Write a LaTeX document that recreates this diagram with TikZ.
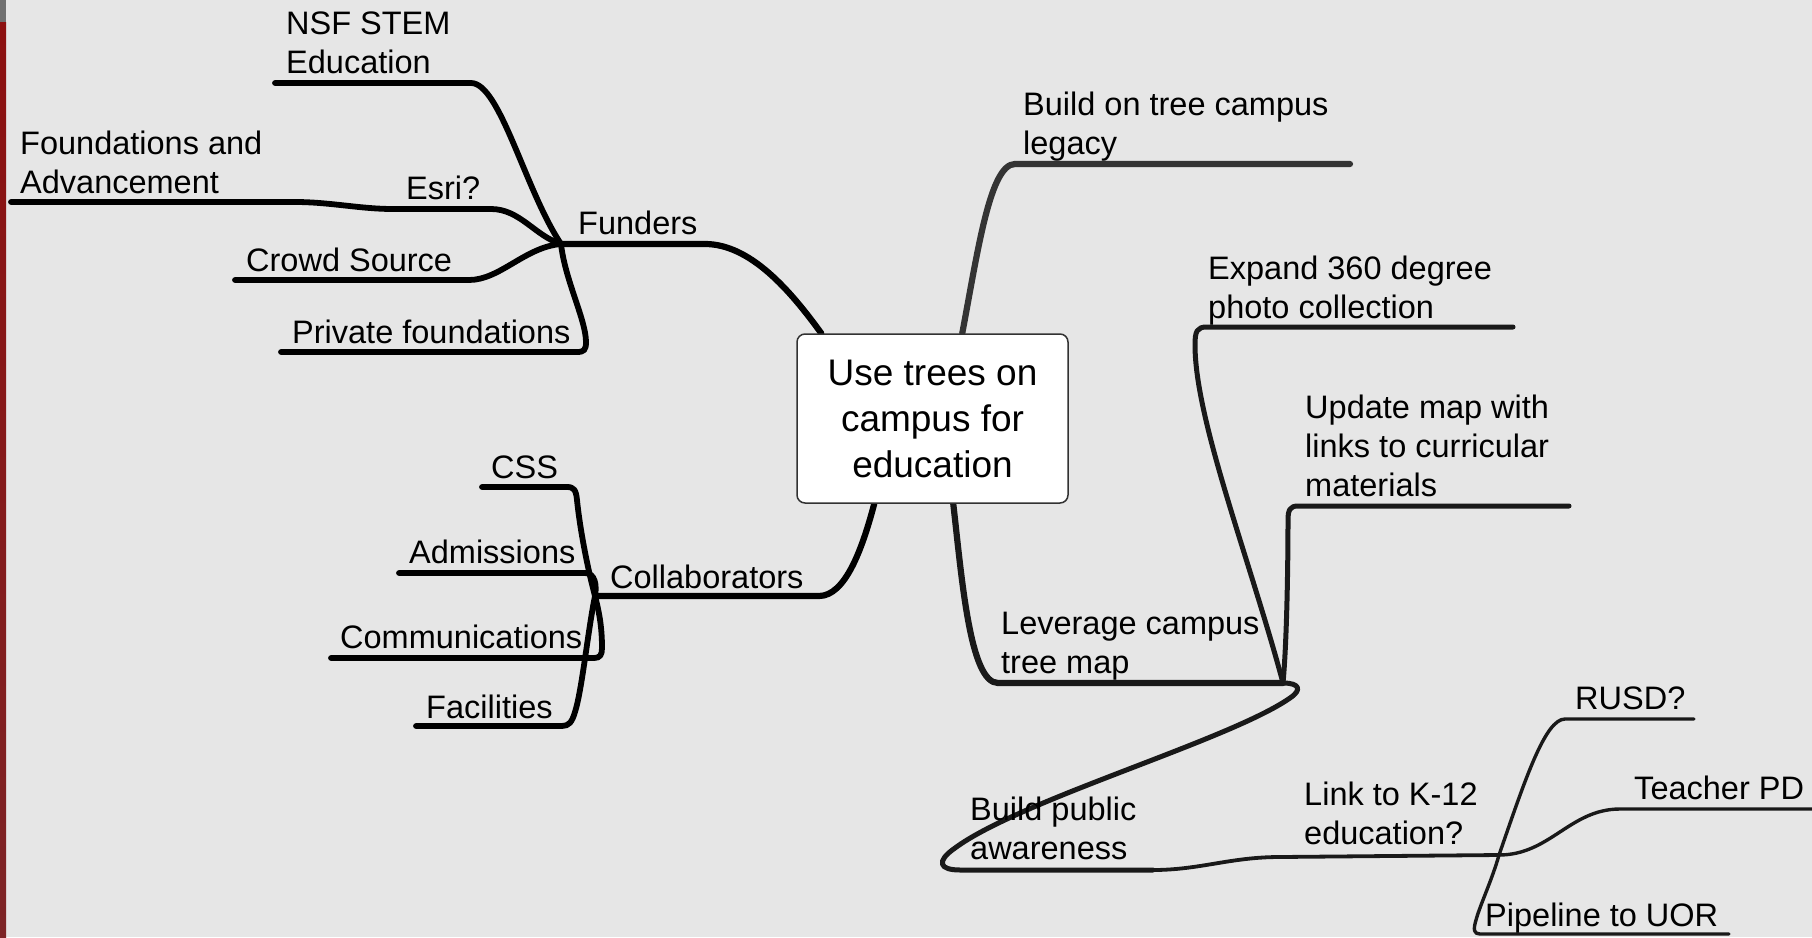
\documentclass[tikz,border=0pt]{standalone}
\usepackage{fontspec}
\setmainfont{Liberation Sans}
\usetikzlibrary{backgrounds}
\definecolor{bg}{RGB}{230,230,230}
\definecolor{legacyc}{RGB}{52,52,52}
\definecolor{boxline}{RGB}{50,50,50}
\definecolor{stripgrey}{RGB}{112,112,112}
\definecolor{stripred}{RGB}{140,16,16}
\definecolor{stripred2}{RGB}{125,36,38}
\tikzset{
  lbl/.style={anchor=base west, inner sep=0pt, yshift=-1.5pt, font=\fontsize{32.5}{39}\selectfont, align=left},
  rootbox/.style={draw=boxline, fill=white, rounded corners=8pt, line width=1.5pt,
    minimum width=271pt, minimum height=169pt, align=center, inner sep=0pt,
    font=\fontsize{37}{46}\selectfont},
  brmain/.style={line width=6.2pt, line cap=round, line join=round},
  br/.style={line width=5.8pt, line cap=round, line join=round},
  brm/.style={line width=5pt, line cap=round, line join=round},
  brt/.style={line width=3.4pt, line cap=round, line join=round},
}
\begin{document}
\begin{tikzpicture}[x=1pt,y=-1pt]
\useasboundingbox (0,0) rectangle (1812,937);
\begin{scope}[on background layer]
\fill[bg] (0,0) rectangle (1812,937);
\shade[top color=stripred, bottom color=stripred2] (0,22) rectangle (6,937);
\fill[stripgrey] (0,0) rectangle (6,22);
\end{scope}

% root
\node[rootbox] (root) at (932.5,418.5) {Use trees on\\campus for\\education};

% labels (anchor at the baseline of the last line)
\node[lbl] (nsf) at (286,72) {NSF STEM\\Education};
\node[lbl] (fa) at (20,192) {Foundations and\\Advancement};
\node[lbl] (esri) at (406,198) {Esri?};
\node[lbl] (funders) at (578,233) {Funders};
\node[lbl] (crowd) at (246,270) {Crowd Source};
\node[lbl] (priv) at (292,342) {Private foundations};
\node[lbl] (css) at (491,477) {CSS};
\node[lbl] (adm) at (409,562) {Admissions};
\node[lbl] (comm) at (340,647) {Communications};
\node[lbl] (fac) at (426,717) {Facilities};
\node[lbl] (collab) at (610,587) {Collaborators};
\node[lbl] (legacy) at (1023,153) {Build on tree campus\\legacy};
\node[lbl] (expand) at (1208,317) {Expand 360 degree\\photo collection};
\node[lbl] (update) at (1305,495) {Update map with\\links to curricular\\materials};
\node[lbl] (leverage) at (1001,672) {Leverage campus\\tree map};
\node[lbl] (public) at (970,858) {Build public\\awareness};
\node[lbl] (k12) at (1304,843) {Link to K-12\\education?};
\node[lbl] (rusd) at (1575,708) {RUSD?};
\node[lbl] (teacher) at (1634,798) {Teacher PD};
\node[lbl] (pipe) at (1485,925) {Pipeline to UOR};

% junctions and free ends
\coordinate (J1) at (561,244);
\coordinate (J2) at (595,596);
\coordinate (J3) at (1283,683);
\coordinate (J4) at (1499,855);
\coordinate (nsfE) at (275,83);
\coordinate (faE) at (11,202);
\coordinate (crowdE) at (235,280);
\coordinate (privE) at (281,352);
\coordinate (cssE) at (482,487);
\coordinate (admE) at (399,573);
\coordinate (commE) at (331,658);
\coordinate (facE) at (416,726);
\coordinate (legE) at (1350,164);
\coordinate (expE) at (1513,327);
\coordinate (updE) at (1569,506);
\coordinate (pubE) at (1153,870);
\coordinate (rusdE) at (1694,719);
\coordinate (teachE) at (1812,809);
\coordinate (pipeE) at (1729,934);

\begin{scope}[on background layer]
% Funders subtree
\draw[brmain] (J1) -- (705,244) .. controls (750,244) and (790,290) .. ([xshift=25pt]root.north west);
\draw[br] (J1) .. controls (525,190) and (500,83) .. (471,83) -- (nsfE);
\draw[br] (J1) .. controls (535,236) and (520,209) .. (491,209) -- (393,209) .. controls (360,209) and (330,202) .. (295,202) -- (faE);
\draw[br] (J1) .. controls (525,247) and (500,280) .. (469,280) -- (crowdE);
\draw[br] (J1) .. controls (565,280) and (586,320) .. (586,342) .. controls (586,350) and (584,352) .. (577,352) -- (privE);
% Collaborators subtree
\draw[brmain] (J2) -- (819,596) .. controls (845,596) and (862,550) .. ([xshift=78pt]root.south west);
\draw[br] (J2) .. controls (588,570) and (580,530) .. (577,500) .. controls (576,490) and (574,487) .. (567,487) -- (cssE);
\draw[br] (J2) .. controls (597,585) and (595,573) .. (585,573) -- (admE);
\draw[br] (J2) .. controls (600,615) and (602,630) .. (602,648) .. controls (602,655) and (600,658) .. (594,658) -- (commE);
\draw[br] (J2) .. controls (588,630) and (582,690) .. (575,712) .. controls (572,722) and (569,726) .. (562,726) -- (facE);
% Right side
\draw[brmain, draw=legacyc] ([xshift=166pt]root.north west) .. controls (978,250) and (990,164) .. (1015,164) -- (legE);
\draw[brmain, draw=black!90] ([xshift=157pt]root.south west) .. controls (962,580) and (970,683) .. (998,683) -- (J3);
\draw[brm, draw=black!90] (J3) .. controls (1250,560) and (1195,420) .. (1195,345) .. controls (1195,331) and (1197,327) .. (1207,327) -- (expE);
\draw[brm, draw=black!90] (J3) .. controls (1287,640) and (1288,560) .. (1288,520) .. controls (1288,510) and (1290,506) .. (1298,506) -- (updE);
\draw[brm, draw=black!90] (J3) .. controls (1300,683) and (1302,690) .. (1290,698) .. controls (1230,740) and (1020,800) .. (955,848) .. controls (935,862) and (940,870) .. (960,870) -- (pubE);
\draw[line width=3.8pt, line cap=round, line join=round, draw=black!90] (pubE) .. controls (1200,870) and (1230,857) .. (1280,857) -- (J4);
\draw[brt, draw=black!90] (J4) .. controls (1525,780) and (1545,719) .. (1565,719) -- (rusdE);
\draw[brt, draw=black!90] (J4) .. controls (1550,855) and (1570,809) .. (1620,809) -- (teachE);
\draw[brt, draw=black!90] (J4) .. controls (1492,880) and (1480,905) .. (1476,920) .. controls (1473,930) and (1474,934) .. (1480,934) -- (pipeE);
\end{scope}
\end{tikzpicture}
\end{document}
